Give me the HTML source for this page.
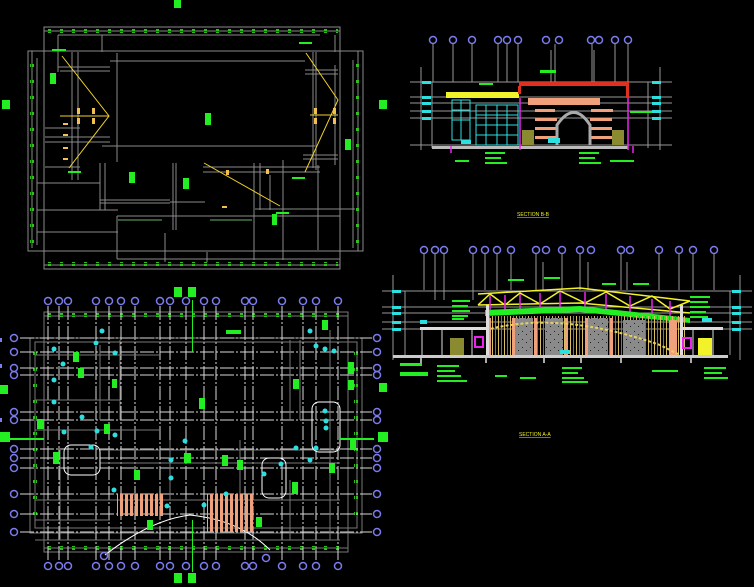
<!DOCTYPE html>
<html><head><meta charset="utf-8"><style>
html,body{margin:0;padding:0;background:#000;width:754px;height:587px;overflow:hidden}
svg{display:block}
text{font-family:"Liberation Sans",sans-serif}
</style></head><body>
<svg width="754" height="587" viewBox="0 0 754 587" xmlns="http://www.w3.org/2000/svg">
<defs>
<pattern id="tick" width="12" height="4" patternUnits="userSpaceOnUse"><rect x="0" y="0" width="3" height="3" fill="#2fbf1f"/></pattern>
<pattern id="vtick" width="4" height="16" patternUnits="userSpaceOnUse"><rect x="0" y="0" width="3" height="3" fill="#2fbf1f"/></pattern>
<pattern id="hatch" width="5" height="10" patternUnits="userSpaceOnUse"><rect width="3" height="10" fill="#f0a07a"/></pattern>
<pattern id="vstr" width="6" height="10" patternUnits="userSpaceOnUse"><rect width="1" height="10" fill="#d8c060"/><rect x="3" width="1" height="10" fill="#777"/></pattern>
<pattern id="dots" width="8" height="8" patternUnits="userSpaceOnUse"><rect width="8" height="8" fill="#8a8a8a"/><rect x="2" y="3" width="1" height="1" fill="#222"/><rect x="6" y="6" width="1" height="1" fill="#222"/></pattern>
</defs>

<!-- ============ TOP PLAN ============ -->
<g stroke="#8a8a8a" stroke-width="1" fill="none">
<rect x="44" y="27" width="296" height="242"/>
<line x1="44" y1="31" x2="340" y2="31"/><line x1="44" y1="265" x2="340" y2="265"/>
<line x1="58" y1="35" x2="320" y2="35"/>
<rect x="28" y="51" width="335" height="200"/>
<line x1="32" y1="51" x2="32" y2="248"/><line x1="358" y1="51" x2="358" y2="251"/>
<line x1="37" y1="58" x2="37" y2="245"/><line x1="353" y1="60" x2="353" y2="248"/>
<line x1="110" y1="61" x2="305" y2="61"/>
<line x1="102" y1="146" x2="315" y2="146"/>
<line x1="117" y1="53" x2="117" y2="162"/>
<line x1="313" y1="52" x2="313" y2="168"/>
<line x1="78" y1="52" x2="78" y2="180"/><line x1="72" y1="52" x2="72" y2="180"/>
<line x1="316" y1="52" x2="316" y2="170"/><line x1="335" y1="65" x2="335" y2="165"/>
<line x1="58" y1="67" x2="110" y2="67"/><line x1="60" y1="71" x2="110" y2="71"/>
<line x1="305" y1="70" x2="338" y2="70"/><line x1="305" y1="74" x2="338" y2="74"/>
<line x1="45" y1="128" x2="80" y2="128"/><line x1="45" y1="167" x2="80" y2="167"/>
<line x1="45" y1="137" x2="110" y2="137"/><line x1="45" y1="142" x2="110" y2="142"/>
<line x1="303" y1="155" x2="338" y2="155"/><line x1="303" y1="159" x2="338" y2="159"/>
<line x1="37" y1="183" x2="100" y2="183"/>
<line x1="37" y1="210" x2="118" y2="210"/><line x1="37" y1="232" x2="118" y2="232"/>
<line x1="100" y1="200" x2="170" y2="200"/><line x1="100" y1="203" x2="170" y2="203"/>
<line x1="170" y1="202" x2="205" y2="202"/>
<line x1="203" y1="167" x2="320" y2="167"/><line x1="203" y1="172" x2="320" y2="172"/>
<line x1="255" y1="209" x2="355" y2="209"/>
<line x1="117" y1="216" x2="340" y2="216"/><line x1="117" y1="259" x2="340" y2="259"/>
<line x1="117" y1="216" x2="117" y2="259"/>
<line x1="100" y1="163" x2="100" y2="210"/><line x1="105" y1="163" x2="105" y2="210"/>
<line x1="173" y1="163" x2="173" y2="230"/><line x1="176" y1="163" x2="176" y2="230"/>
<line x1="254" y1="163" x2="254" y2="260"/><line x1="283" y1="160" x2="283" y2="260"/>
<line x1="165" y1="233" x2="165" y2="262"/><line x1="207" y1="252" x2="207" y2="262"/>
<line x1="260" y1="163" x2="260" y2="210"/><line x1="270" y1="175" x2="270" y2="210"/>
<line x1="318" y1="165" x2="318" y2="250"/><line x1="58" y1="35" x2="58" y2="72"/>
<line x1="102" y1="35" x2="102" y2="52"/><line x1="335" y1="35" x2="335" y2="52"/>
</g>
<g fill="url(#tick)"><rect x="46" y="29" width="292" height="4"/><rect x="46" y="262" width="292" height="4"/></g>
<g fill="url(#vtick)"><rect x="30" y="55" width="4" height="190"/><rect x="355" y="55" width="4" height="190"/></g>
<g stroke="#f2d22a" stroke-width="1" fill="none">
<polyline points="62,56 109,116 69,168"/><line x1="60" y1="116" x2="109" y2="116"/>
<polyline points="306,53 338,100 305,172"/><line x1="310" y1="115" x2="338" y2="115"/>
<line x1="204" y1="163" x2="280" y2="206"/>
</g>
<g fill="#f2c050">
<rect x="77" y="108" width="3" height="6"/><rect x="92" y="108" width="3" height="6"/><rect x="77" y="118" width="3" height="6"/><rect x="92" y="118" width="3" height="6"/>
<rect x="63" y="123" width="5" height="2"/><rect x="63" y="134" width="5" height="2"/><rect x="63" y="147" width="5" height="2"/><rect x="63" y="158" width="5" height="2"/>
<rect x="314" y="108" width="3" height="6"/><rect x="333" y="108" width="3" height="6"/><rect x="314" y="118" width="3" height="6"/><rect x="333" y="118" width="3" height="6"/>
<rect x="226" y="170" width="3" height="5"/><rect x="266" y="169" width="3" height="5"/><rect x="222" y="206" width="5" height="2"/>
</g>
<g fill="#22ee22">
<rect x="50" y="73" width="6" height="11"/><rect x="205" y="113" width="6" height="12"/><rect x="129" y="172" width="6" height="11"/>
<rect x="183" y="178" width="6" height="11"/><rect x="272" y="214" width="5" height="11"/><rect x="345" y="139" width="6" height="11"/>
<rect x="52" y="49" width="14" height="2"/><rect x="299" y="42" width="13" height="2"/><rect x="292" y="177" width="13" height="2"/>
<rect x="68" y="171" width="13" height="2"/><rect x="276" y="212" width="13" height="2"/>
</g>
<g stroke="#6ab06a" stroke-width="1"><line x1="118" y1="220" x2="162" y2="220"/><line x1="210" y1="220" x2="252" y2="220"/></g>
<g fill="#22ee22"><rect x="174" y="0" width="7" height="8"/><rect x="2" y="100" width="8" height="9"/><rect x="379" y="100" width="8" height="9"/></g>

<!-- ============ BOTTOM PLAN ============ -->
<g stroke="#777" stroke-width="1" fill="none">
<rect x="44" y="312" width="304" height="240"/>
<rect x="44" y="316" width="304" height="232"/>
<rect x="30" y="338" width="332" height="195"/>
<rect x="35" y="342" width="322" height="186"/>
</g>
<g fill="url(#tick)"><rect x="46" y="313" width="300" height="4"/><rect x="46" y="546" width="300" height="4"/></g>
<g fill="url(#vtick)"><rect x="33" y="345" width="4" height="180"/><rect x="354" y="345" width="4" height="180"/></g>
<g stroke="#d8d8d8" stroke-width="1" stroke-dasharray="14,2,2,2">
<line x1="48" y1="306" x2="48" y2="560"/><line x1="59" y1="306" x2="59" y2="560"/><line x1="68" y1="306" x2="68" y2="560"/>
<line x1="96" y1="306" x2="96" y2="560"/><line x1="109" y1="306" x2="109" y2="560"/><line x1="121" y1="306" x2="121" y2="560"/>
<line x1="135" y1="306" x2="135" y2="560"/><line x1="160" y1="306" x2="160" y2="560"/><line x1="170" y1="306" x2="170" y2="560"/>
<line x1="186" y1="306" x2="186" y2="560"/><line x1="204" y1="306" x2="204" y2="560"/><line x1="216" y1="306" x2="216" y2="560"/>
<line x1="245" y1="306" x2="245" y2="560"/><line x1="253" y1="306" x2="253" y2="560"/><line x1="282" y1="306" x2="282" y2="560"/>
<line x1="303" y1="306" x2="303" y2="560"/><line x1="316" y1="306" x2="316" y2="560"/><line x1="338" y1="306" x2="338" y2="560"/>
<line x1="20" y1="338" x2="372" y2="338"/><line x1="20" y1="352" x2="372" y2="352"/><line x1="20" y1="368" x2="372" y2="368"/>
<line x1="20" y1="375" x2="372" y2="375"/><line x1="20" y1="412" x2="372" y2="412"/><line x1="20" y1="420" x2="372" y2="420"/>
<line x1="20" y1="449" x2="372" y2="449"/><line x1="20" y1="458" x2="372" y2="458"/><line x1="20" y1="468" x2="372" y2="468"/>
<line x1="20" y1="494" x2="372" y2="494"/><line x1="20" y1="514" x2="372" y2="514"/><line x1="20" y1="532" x2="372" y2="532"/>
</g>
<g stroke="#777" stroke-width="1" fill="none">
<line x1="35" y1="355" x2="160" y2="355"/><line x1="35" y1="400" x2="120" y2="400"/><line x1="35" y1="430" x2="160" y2="430"/>
<line x1="100" y1="450" x2="340" y2="450"/><line x1="100" y1="463" x2="340" y2="463"/><line x1="35" y1="500" x2="340" y2="500"/>
<line x1="35" y1="520" x2="110" y2="520"/><line x1="35" y1="540" x2="340" y2="540"/><line x1="60" y1="450" x2="60" y2="540"/>
<line x1="120" y1="340" x2="120" y2="420"/><line x1="290" y1="340" x2="290" y2="420"/><line x1="300" y1="340" x2="300" y2="420"/>
<line x1="330" y1="330" x2="330" y2="540"/><line x1="290" y1="480" x2="290" y2="540"/>
<line x1="100" y1="345" x2="100" y2="420"/><line x1="170" y1="440" x2="170" y2="500"/><line x1="240" y1="440" x2="240" y2="500"/>
</g>
<g stroke="#fff" stroke-width="1" fill="none">
<rect x="64" y="445" width="36" height="30" rx="7"/><rect x="262" y="458" width="24" height="40" rx="7"/><rect x="312" y="402" width="28" height="50" rx="7"/>
<path d="M105 555 Q150 520 190 515 Q240 520 270 550"/>
</g>
<g fill="url(#hatch)"><rect x="117" y="494" width="48" height="22"/><rect x="207" y="494" width="48" height="38"/></g>
<g fill="#22ee22">
<rect x="73" y="352" width="6" height="10"/><rect x="78" y="368" width="6" height="10"/><rect x="112" y="379" width="5" height="9"/>
<rect x="37" y="419" width="7" height="10"/><rect x="104" y="424" width="6" height="10"/><rect x="53" y="452" width="6" height="12"/>
<rect x="199" y="398" width="6" height="11"/><rect x="184" y="453" width="7" height="10"/><rect x="222" y="455" width="6" height="11"/>
<rect x="237" y="460" width="6" height="10"/><rect x="322" y="320" width="6" height="10"/>
<rect x="348" y="362" width="6" height="12"/><rect x="348" y="380" width="6" height="10"/><rect x="293" y="379" width="6" height="10"/>
<rect x="350" y="440" width="6" height="10"/><rect x="329" y="463" width="6" height="10"/><rect x="292" y="482" width="6" height="12"/>
<rect x="147" y="520" width="6" height="10"/><rect x="256" y="517" width="6" height="10"/><rect x="134" y="470" width="6" height="10"/>
<rect x="226" y="330" width="15" height="4"/><rect x="0" y="438" width="44" height="2" /><rect x="340" y="438" width="34" height="2"/>
</g>
<g fill="#2de0e0">
<circle cx="102" cy="331" r="2.5"/><circle cx="96" cy="343" r="2.5"/><circle cx="115" cy="353" r="2.5"/><circle cx="54" cy="349" r="2.5"/>
<circle cx="63" cy="364" r="2.5"/><circle cx="54" cy="380" r="2.5"/><circle cx="54" cy="402" r="2.5"/><circle cx="82" cy="417" r="2.5"/>
<circle cx="64" cy="432" r="2.5"/><circle cx="97" cy="431" r="2.5"/><circle cx="115" cy="435" r="2.5"/><circle cx="91" cy="447" r="2.5"/>
<circle cx="185" cy="441" r="2.5"/><circle cx="171" cy="460" r="2.5"/><circle cx="171" cy="478" r="2.5"/><circle cx="114" cy="490" r="2.5"/>
<circle cx="167" cy="506" r="2.5"/><circle cx="204" cy="505" r="2.5"/><circle cx="226" cy="494" r="2.5"/><circle cx="310" cy="331" r="2.5"/>
<circle cx="316" cy="346" r="2.5"/><circle cx="325" cy="349" r="2.5"/><circle cx="334" cy="351" r="2.5"/><circle cx="325" cy="411" r="2.5"/>
<circle cx="326" cy="421" r="2.5"/><circle cx="326" cy="428" r="2.5"/><circle cx="316" cy="448" r="2.5"/><circle cx="296" cy="448" r="2.5"/>
<circle cx="281" cy="464" r="2.5"/><circle cx="310" cy="460" r="2.5"/><circle cx="264" cy="474" r="2.5"/>
</g>
<g fill="none" stroke="#7b7bf0" stroke-width="1.5">
<g id="tb">
<circle cx="48" cy="301" r="3.5"/><circle cx="59" cy="301" r="3.5"/><circle cx="68" cy="301" r="3.5"/><circle cx="96" cy="301" r="3.5"/>
<circle cx="109" cy="301" r="3.5"/><circle cx="121" cy="301" r="3.5"/><circle cx="135" cy="301" r="3.5"/><circle cx="160" cy="301" r="3.5"/>
<circle cx="170" cy="301" r="3.5"/><circle cx="186" cy="301" r="3.5"/><circle cx="204" cy="301" r="3.5"/><circle cx="216" cy="301" r="3.5"/>
<circle cx="245" cy="301" r="3.5"/><circle cx="253" cy="301" r="3.5"/><circle cx="282" cy="301" r="3.5"/><circle cx="303" cy="301" r="3.5"/>
<circle cx="316" cy="301" r="3.5"/><circle cx="338" cy="301" r="3.5"/>
</g>
<use href="#tb" y="265"/>
<g id="lb">
<circle cx="14" cy="338" r="3.5"/><circle cx="14" cy="352" r="3.5"/><circle cx="14" cy="368" r="3.5"/><circle cx="14" cy="375" r="3.5"/>
<circle cx="14" cy="412" r="3.5"/><circle cx="14" cy="420" r="3.5"/><circle cx="14" cy="449" r="3.5"/><circle cx="14" cy="458" r="3.5"/>
<circle cx="14" cy="468" r="3.5"/><circle cx="14" cy="494" r="3.5"/><circle cx="14" cy="514" r="3.5"/><circle cx="14" cy="532" r="3.5"/>
</g>
<use href="#lb" x="363"/>
<circle cx="104" cy="556" r="3.5"/><circle cx="266" cy="558" r="3.5"/>
</g>
<g fill="#22ee22"><rect x="174" y="287" width="8" height="10"/><rect x="188" y="287" width="8" height="10"/><rect x="174" y="573" width="8" height="10"/><rect x="188" y="573" width="8" height="10"/>
<rect x="0" y="432" width="10" height="10"/><rect x="378" y="432" width="10" height="10"/><rect x="379" y="383" width="8" height="9"/><rect x="0" y="385" width="8" height="9"/>
<rect x="192" y="300" width="1" height="52"/><rect x="192" y="520" width="1" height="52"/></g>

<!-- ============ SECTION B-B ============ -->
<g fill="none" stroke="#7b7bf0" stroke-width="1.5">
<circle cx="433" cy="40" r="3.5"/><circle cx="453" cy="40" r="3.5"/><circle cx="472" cy="40" r="3.5"/><circle cx="498" cy="40" r="3.5"/>
<circle cx="507" cy="40" r="3.5"/><circle cx="518" cy="40" r="3.5"/><circle cx="546" cy="40" r="3.5"/><circle cx="559" cy="40" r="3.5"/>
<circle cx="591" cy="40" r="3.5"/><circle cx="599" cy="40" r="3.5"/><circle cx="615" cy="40" r="3.5"/><circle cx="628" cy="40" r="3.5"/>
</g>
<g stroke="#999" stroke-width="1">
<line x1="433" y1="44" x2="433" y2="82"/><line x1="453" y1="44" x2="453" y2="82"/><line x1="472" y1="44" x2="472" y2="82"/><line x1="498" y1="44" x2="498" y2="82"/>
<line x1="507" y1="44" x2="507" y2="82"/><line x1="518" y1="44" x2="518" y2="82"/><line x1="551" y1="50" x2="551" y2="82"/><line x1="555" y1="44" x2="555" y2="82"/>
<line x1="592" y1="44" x2="592" y2="82"/><line x1="594" y1="50" x2="594" y2="82"/><line x1="615" y1="44" x2="615" y2="82"/><line x1="628" y1="44" x2="628" y2="82"/>
<line x1="410" y1="82" x2="672" y2="82"/><line x1="410" y1="97" x2="672" y2="97"/><line x1="410" y1="103" x2="672" y2="103"/>
<line x1="410" y1="111" x2="672" y2="111"/><line x1="410" y1="118" x2="672" y2="118"/><line x1="410" y1="145" x2="672" y2="145"/>
<line x1="421" y1="67" x2="421" y2="150"/><line x1="660" y1="67" x2="660" y2="150"/>
<line x1="432" y1="82" x2="432" y2="148"/><line x1="648" y1="82" x2="648" y2="148"/>
</g>
<rect x="432" y="146" width="196" height="3" fill="#bbb"/>
<rect x="446" y="92" width="73" height="6" fill="#f2f22a"/>
<rect x="519" y="82" width="110" height="4" fill="#e03020"/>
<rect x="518" y="86" width="3" height="8" fill="#e03020"/><rect x="626" y="86" width="3" height="12" fill="#e03020"/>
<g stroke="#2de0e0" stroke-width="1" fill="none">
<rect x="452" y="100" width="18" height="40"/><line x1="452" y1="110" x2="470" y2="110"/><line x1="452" y1="120" x2="470" y2="120"/><line x1="461" y1="100" x2="461" y2="140"/>
<rect x="476" y="105" width="42" height="40"/><line x1="476" y1="115" x2="518" y2="115"/><line x1="476" y1="125" x2="518" y2="125"/><line x1="476" y1="135" x2="518" y2="135"/>
<line x1="486" y1="105" x2="486" y2="145"/><line x1="497" y1="105" x2="497" y2="145"/><line x1="507" y1="105" x2="507" y2="145"/>
</g>
<g fill="#f0a07a">
<rect x="528" y="98" width="72" height="7"/><rect x="535" y="109" width="20" height="3"/><rect x="591" y="109" width="22" height="3"/>
<rect x="535" y="118" width="22" height="3"/><rect x="590" y="118" width="22" height="3"/><rect x="535" y="127" width="22" height="3"/><rect x="590" y="127" width="22" height="3"/>
<rect x="535" y="136" width="22" height="3"/><rect x="590" y="136" width="22" height="3"/>
</g>
<path d="M557 145 L557 125 Q574 100 590 125 L590 145" fill="none" stroke="#aaa" stroke-width="3"/>
<g stroke="#ee22ee" stroke-width="1.5"><line x1="520" y1="98" x2="520" y2="150"/><line x1="628" y1="98" x2="628" y2="150"/><line x1="451" y1="146" x2="451" y2="153"/><line x1="633" y1="146" x2="633" y2="153"/></g>
<rect x="522" y="130" width="12" height="15" fill="#8a8a30"/><rect x="612" y="130" width="12" height="15" fill="#8a8a30"/>
<g fill="#22ee22">
<rect x="540" y="70" width="16" height="3"/><rect x="455" y="160" width="14" height="2"/><rect x="485" y="152" width="20" height="2"/><rect x="485" y="157" width="16" height="2"/>
<rect x="485" y="162" width="22" height="2"/><rect x="579" y="152" width="20" height="2"/><rect x="579" y="157" width="16" height="2"/><rect x="579" y="162" width="22" height="2"/>
<rect x="610" y="160" width="24" height="2"/><rect x="630" y="111" width="22" height="2"/><rect x="479" y="83" width="14" height="2"/>
</g>
<g fill="#2de0e0"><rect x="422" y="81" width="9" height="3"/><rect x="422" y="96" width="9" height="3"/><rect x="422" y="102" width="9" height="3"/><rect x="422" y="110" width="9" height="3"/><rect x="422" y="117" width="9" height="3"/>
<rect x="652" y="81" width="9" height="3"/><rect x="652" y="96" width="9" height="3"/><rect x="652" y="102" width="9" height="3"/><rect x="652" y="110" width="9" height="3"/><rect x="652" y="117" width="9" height="3"/>
<rect x="461" y="140" width="10" height="4"/><rect x="548" y="138" width="12" height="5"/></g>
<text x="517" y="216" font-size="5" fill="#f2f22a" text-decoration="underline">SECTION B-B</text>

<!-- ============ SECTION A-A ============ -->
<g fill="none" stroke="#7b7bf0" stroke-width="1.5">
<circle cx="424" cy="250" r="3.5"/><circle cx="435" cy="250" r="3.5"/><circle cx="444" cy="250" r="3.5"/><circle cx="473" cy="250" r="3.5"/>
<circle cx="485" cy="250" r="3.5"/><circle cx="497" cy="250" r="3.5"/><circle cx="511" cy="250" r="3.5"/><circle cx="536" cy="250" r="3.5"/>
<circle cx="546" cy="250" r="3.5"/><circle cx="562" cy="250" r="3.5"/><circle cx="580" cy="250" r="3.5"/><circle cx="591" cy="250" r="3.5"/>
<circle cx="621" cy="250" r="3.5"/><circle cx="630" cy="250" r="3.5"/><circle cx="659" cy="250" r="3.5"/><circle cx="679" cy="250" r="3.5"/>
<circle cx="693" cy="250" r="3.5"/><circle cx="714" cy="250" r="3.5"/>
</g>
<g stroke="#999" stroke-width="1">
<line x1="424" y1="254" x2="424" y2="290"/><line x1="435" y1="254" x2="435" y2="300"/><line x1="444" y1="254" x2="444" y2="300"/><line x1="473" y1="254" x2="473" y2="300"/>
<line x1="485" y1="254" x2="485" y2="290"/><line x1="497" y1="254" x2="497" y2="290"/><line x1="511" y1="254" x2="511" y2="290"/><line x1="536" y1="254" x2="536" y2="290"/>
<line x1="543" y1="262" x2="543" y2="290"/><line x1="562" y1="254" x2="562" y2="290"/><line x1="580" y1="254" x2="580" y2="290"/><line x1="588" y1="262" x2="588" y2="290"/>
<line x1="621" y1="254" x2="621" y2="290"/><line x1="627" y1="262" x2="627" y2="290"/><line x1="659" y1="254" x2="659" y2="290"/><line x1="679" y1="254" x2="679" y2="290"/>
<line x1="693" y1="254" x2="693" y2="290"/><line x1="714" y1="254" x2="714" y2="290"/>
<line x1="382" y1="291" x2="752" y2="291"/><line x1="382" y1="307" x2="752" y2="307"/><line x1="382" y1="313" x2="752" y2="313"/>
<line x1="382" y1="322" x2="752" y2="322"/><line x1="382" y1="329" x2="752" y2="329"/>
<line x1="393" y1="275" x2="393" y2="360"/><line x1="740" y1="275" x2="740" y2="360"/>
<line x1="405" y1="291" x2="405" y2="355"/><line x1="730" y1="291" x2="730" y2="355"/>
</g>
<g stroke="#f2f22a" stroke-width="1.5" fill="none">
<path d="M478 294 L580 288 L690 301"/><path d="M478 305 L580 303 L690 313"/>
<path d="M478 305 L490 294 L505 305 L520 293 L540 304 L560 291 L585 303 L606 292 L630 306 L652 296 L670 309 L690 301"/>
</g>
<g stroke="#ee22ee" stroke-width="1.5">
<line x1="490" y1="295" x2="490" y2="310"/><line x1="505" y1="295" x2="505" y2="310"/><line x1="520" y1="294" x2="520" y2="310"/><line x1="540" y1="293" x2="540" y2="308"/>
<line x1="560" y1="292" x2="560" y2="308"/><line x1="585" y1="292" x2="585" y2="310"/><line x1="606" y1="294" x2="606" y2="312"/><line x1="630" y1="296" x2="630" y2="316"/>
<line x1="652" y1="299" x2="652" y2="318"/><line x1="670" y1="301" x2="670" y2="322"/>
</g>
<path d="M485 310 L580 306 L690 318 L690 323 L580 312 L485 316 Z" fill="#22ee22"/>
<rect x="486" y="316" width="200" height="40" fill="url(#vstr)"/>
<g fill="url(#dots)"><rect x="515" y="318" width="18" height="38"/><rect x="545" y="318" width="18" height="38"/><rect x="588" y="318" width="20" height="38"/><rect x="623" y="320" width="22" height="36"/></g>
<g fill="#f0a07a"><rect x="488" y="318" width="3" height="38"/><rect x="512" y="318" width="3" height="38"/><rect x="534" y="318" width="3" height="38"/><rect x="565" y="318" width="3" height="38"/><rect x="585" y="318" width="3" height="38"/><rect x="610" y="318" width="3" height="38"/><rect x="669" y="320" width="8" height="36"/></g>
<path d="M486 330 Q560 310 660 345 L680 355" fill="none" stroke="#e8d060" stroke-width="2" stroke-dasharray="3,2"/>
<rect x="486" y="305" width="3" height="52" fill="#ddd"/>
<rect x="680" y="305" width="3" height="52" fill="#ddd"/>
<rect x="420" y="327" width="66" height="3" fill="#ddd"/><rect x="683" y="327" width="40" height="3" fill="#ddd"/>
<g stroke="#ddd" stroke-width="1"><line x1="422" y1="330" x2="422" y2="356"/><line x1="442" y1="330" x2="442" y2="356"/><line x1="472" y1="330" x2="472" y2="356"/><line x1="713" y1="330" x2="713" y2="356"/><line x1="693" y1="330" x2="693" y2="356"/></g>
<rect x="450" y="338" width="14" height="18" fill="#8a8a30"/>
<rect x="475" y="337" width="8" height="10" fill="none" stroke="#ee22ee" stroke-width="2"/>
<rect x="683" y="338" width="8" height="10" fill="none" stroke="#ee22ee" stroke-width="2"/>
<rect x="698" y="338" width="14" height="17" fill="#f2f22a"/>
<rect x="393" y="355" width="335" height="3" fill="#ccc"/>
<g fill="#aaa"><rect x="420" y="358" width="2" height="5"/><rect x="485" y="358" width="2" height="5"/><rect x="543" y="358" width="2" height="5"/><rect x="580" y="358" width="2" height="5"/><rect x="620" y="358" width="2" height="5"/><rect x="690" y="358" width="2" height="5"/></g>
<g fill="#22ee22">
<rect x="452" y="300" width="18" height="2"/><rect x="452" y="305" width="16" height="2"/><rect x="452" y="310" width="18" height="2"/><rect x="452" y="315" width="16" height="2"/>
<rect x="452" y="318" width="12" height="2"/><rect x="690" y="296" width="20" height="2"/><rect x="690" y="301" width="18" height="2"/><rect x="690" y="306" width="20" height="2"/>
<rect x="690" y="311" width="16" height="2"/><rect x="690" y="316" width="18" height="2"/><rect x="400" y="363" width="22" height="3"/><rect x="400" y="372" width="28" height="4"/>
<rect x="437" y="365" width="22" height="2"/><rect x="437" y="370" width="18" height="2"/><rect x="437" y="375" width="24" height="2"/><rect x="437" y="380" width="30" height="2"/>
<rect x="562" y="367" width="20" height="2"/><rect x="562" y="372" width="16" height="2"/><rect x="562" y="377" width="22" height="2"/><rect x="562" y="381" width="26" height="2"/>
<rect x="652" y="370" width="26" height="2"/><rect x="704" y="367" width="22" height="2"/><rect x="704" y="372" width="18" height="2"/><rect x="704" y="377" width="24" height="2"/>
<rect x="508" y="279" width="16" height="2"/><rect x="544" y="277" width="16" height="2"/><rect x="602" y="283" width="14" height="2"/><rect x="633" y="283" width="16" height="2"/>
<rect x="495" y="375" width="12" height="2"/><rect x="520" y="377" width="16" height="2"/>
</g>
<g fill="#2de0e0"><rect x="392" y="290" width="9" height="3"/><rect x="392" y="306" width="9" height="3"/><rect x="392" y="312" width="9" height="3"/><rect x="392" y="321" width="9" height="3"/><rect x="392" y="328" width="9" height="3"/>
<rect x="732" y="290" width="9" height="3"/><rect x="732" y="306" width="9" height="3"/><rect x="732" y="312" width="9" height="3"/><rect x="732" y="321" width="9" height="3"/><rect x="732" y="328" width="9" height="3"/>
<rect x="420" y="320" width="7" height="4"/><rect x="702" y="318" width="10" height="4"/><rect x="560" y="350" width="10" height="4"/></g>
<text x="519" y="436" font-size="5" fill="#f2f22a" text-decoration="underline">SECTION A-A</text>
<g fill="#7b7bf0"><rect x="0" y="338" width="2" height="4"/><rect x="0" y="364" width="2" height="4"/><rect x="0" y="418" width="2" height="4"/></g>
</svg>
</body></html>
